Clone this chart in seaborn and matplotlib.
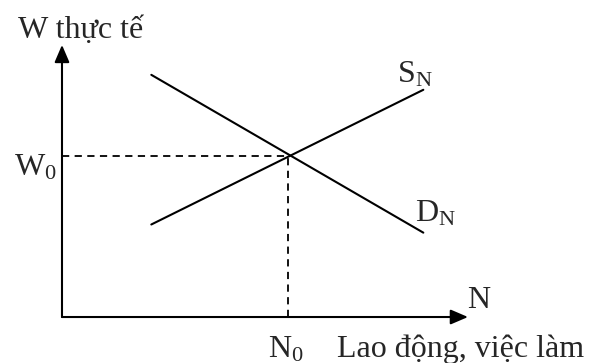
import numpy as np
import pandas as pd
import matplotlib
matplotlib.use('Agg')
import matplotlib.pyplot as plt
import seaborn as sns

# data: labour market (supply / demand of labour)
supply_n = [2.2, 8.9]
supply_w = [3.4, 8.35]
demand_n = [2.2, 8.9]
demand_w = [8.9, 3.1]
n0 = 5.57
w0 = 5.9
axis_end = 10.0

y_title = 'W thực tế'
x_title = 'Lao động, việc làm'

sns.set_theme(style='white')
plt.rcParams['font.family'] = ['Liberation Serif', 'DejaVu Serif']
plt.rcParams['mathtext.fontset'] = 'custom'
plt.rcParams['mathtext.rm'] = 'Liberation Serif'
plt.rcParams['mathtext.it'] = 'Liberation Serif:italic'

fig = plt.figure(figsize=(5.91, 3.63), dpi=100)
ax = fig.add_axes([0, 0, 1, 1])
ax.set_xlim(-1.527, 13.03)
ax.set_ylim(-1.69, 11.65)
ax.axis('off')

supply = pd.DataFrame({'N': supply_n, 'W': supply_w})
demand = pd.DataFrame({'N': demand_n, 'W': demand_w})
sns.lineplot(data=supply, x='N', y='W', color='black', lw=1.5, ax=ax)
sns.lineplot(data=demand, x='N', y='W', color='black', lw=1.5, ax=ax)

# dashed guides to equilibrium
ax.plot([0, n0], [w0, w0], color='black', lw=1.3, dashes=(4, 3))
ax.plot([n0, n0], [0, w0], color='black', lw=1.3, dashes=(4, 3))

# axes with arrow heads
arrow = dict(arrowstyle='-|>,head_length=1.05,head_width=0.45', color='black',
             lw=1.5, mutation_scale=10, shrinkA=0, shrinkB=0)
ax.annotate('', xy=(0, axis_end), xytext=(0, 0), arrowprops=arrow)
ax.annotate('', xy=(axis_end, 0), xytext=(0, 0), arrowprops=arrow)

fs = 23
ax.text(-1.08, 10.26, y_title, fontsize=fs, ha='left', va='baseline')
ax.text(-0.12, 5.2, r'$\mathrm{W}_0$', fontsize=fs, ha='right', va='baseline')
ax.text(n0 - 0.05, -1.47, r'$\mathrm{N}_0$', fontsize=fs, ha='center', va='baseline')
ax.text(6.77, -1.47, x_title, fontsize=fs, ha='left', va='baseline')
ax.text(9.97, 0.33, 'N', fontsize=fs, ha='left', va='baseline')
ax.text(8.25, 8.6, r'$\mathrm{S}_\mathrm{N}$', fontsize=fs, ha='left', va='baseline')
ax.text(8.7, 3.5, r'$\mathrm{D}_\mathrm{N}$', fontsize=fs, ha='left', va='baseline')

fig.savefig('out.png', dpi=100)
